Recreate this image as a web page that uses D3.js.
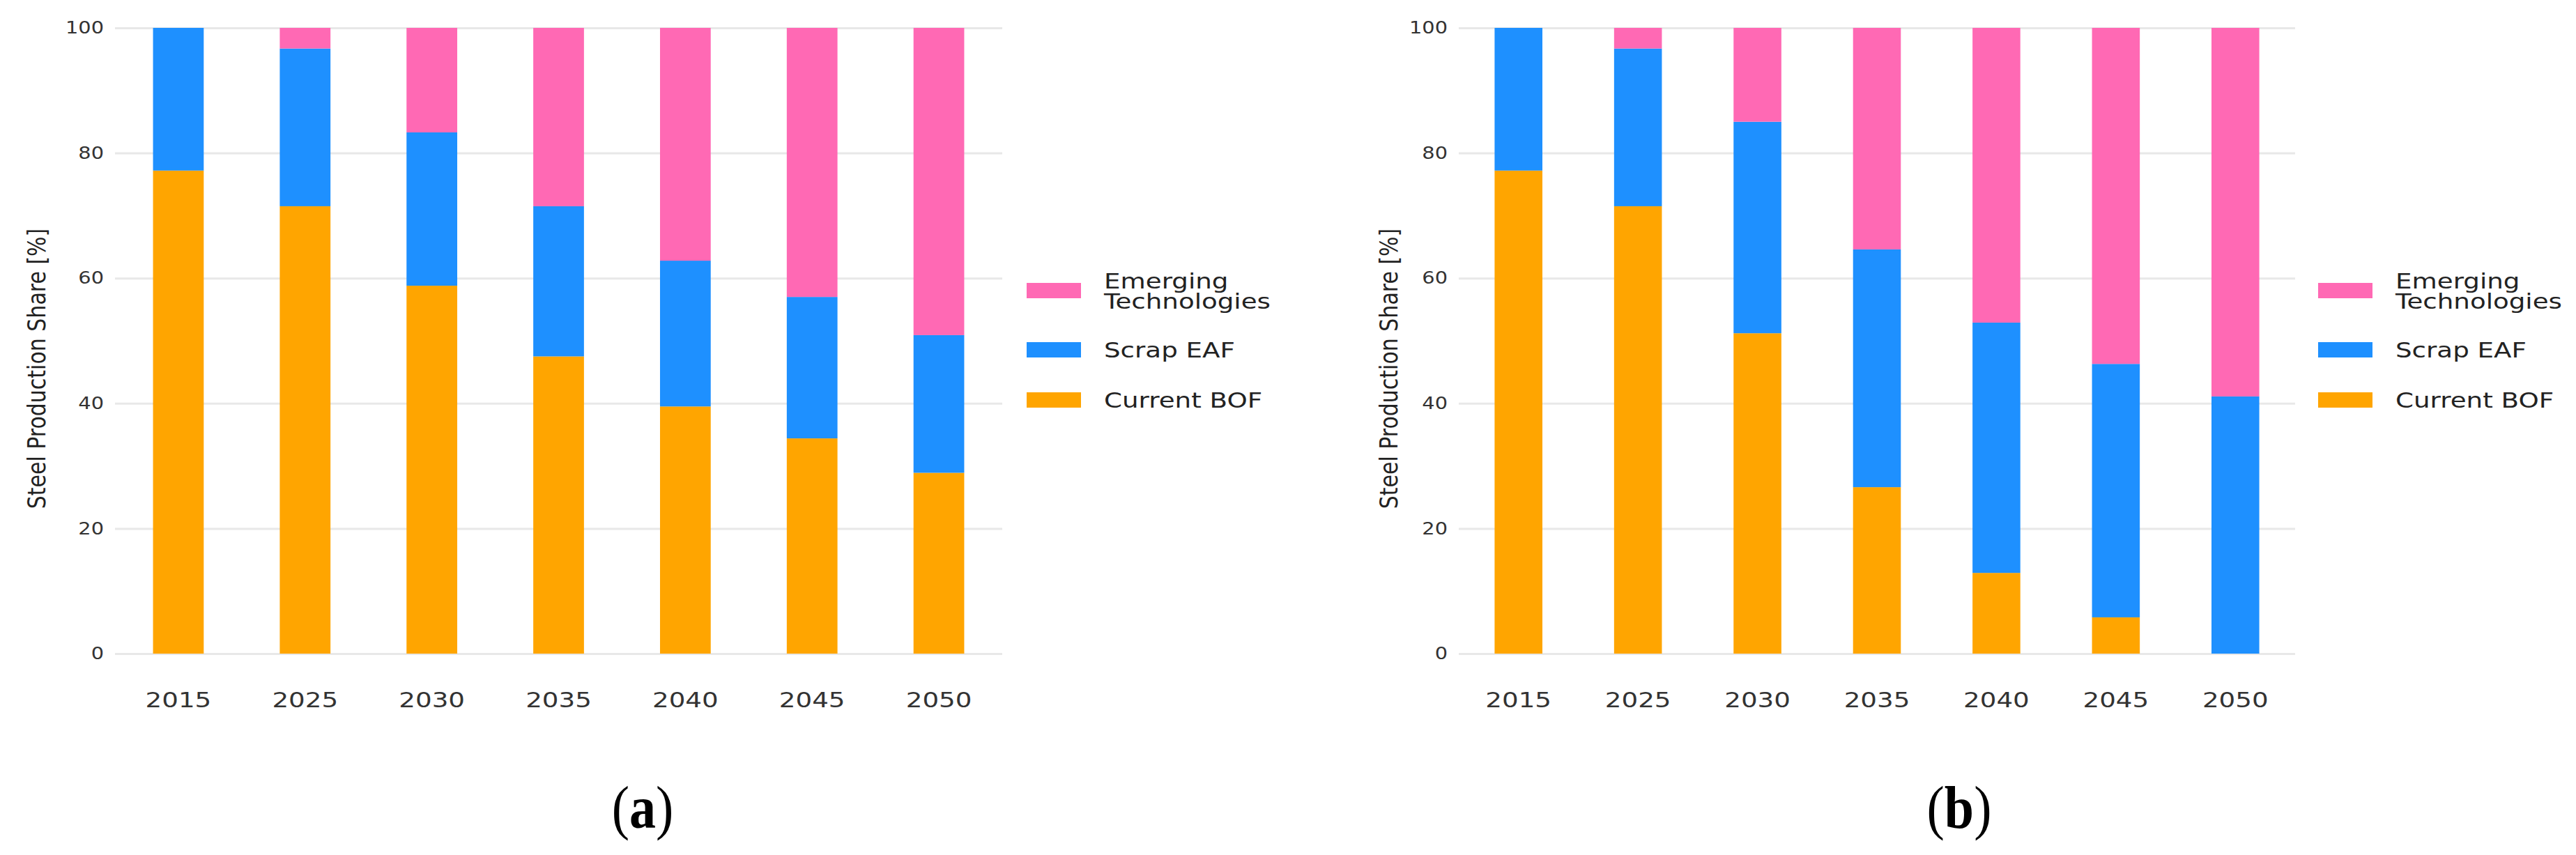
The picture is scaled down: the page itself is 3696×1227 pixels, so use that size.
<!DOCTYPE html>
<html>
<head>
<meta charset="utf-8">
<script src="https://cdn.jsdelivr.net/npm/d3@7"></script>
<style>
  body { margin: 0; background: #fff; }
  svg { display: block; font-family: "DejaVu Sans", sans-serif; }
</style>
</head>
<body>
<svg id="chart" width="3696" height="1227"></svg>
<script>
"use strict";

// categories + tick labels
const years = ["2015", "2025", "2030", "2035", "2040", "2045", "2050"];
const yTicks = [0, 20, 40, 60, 80, 100];
const seriesKeys = ["Current BOF", "Scrap EAF", "Emerging Technologies"];
const seriesColors = ["#FFA500", "#1E90FF", "#FF69B4"];

// panel (a) shares, % of production per segment
const bofA = [77.2, 71.5, 58.8, 47.5, 39.5, 34.4, 28.9];
const eafA = [22.8, 25.2, 24.5, 24.0, 23.3, 22.6, 22.0];
const emergA = [0.0, 3.3, 16.7, 28.5, 37.2, 43.0, 49.1];

// panel (b)
const bofB = [77.2, 71.5, 51.2, 26.6, 12.9, 5.8, 0.0];
const eafB = [22.8, 25.2, 33.8, 38.0, 40.0, 40.5, 41.1];
const emergB = [0.0, 3.3, 15.0, 35.4, 47.1, 53.7, 58.9];

let svg = d3.select("#chart");

// the source image is stretched sideways a bit, mimic it on the text
function widen(sel, k) {
    sel.each(function () {
        let L = this.getComputedTextLength();
        d3.select(this).attr("textLength", L * k).attr("lengthAdjust", "spacingAndGlyphs");
    });
}

function drawPanel(p, bof, eaf, emerg) {

    let rows = years.map(function (yr, i) {
        let r = { year: yr };
        r[seriesKeys[0]] = bof[i];
        r[seriesKeys[1]] = eaf[i];
        r[seriesKeys[2]] = emerg[i];
        return r;
    });

    let x = d3.scaleBand().domain(years).range([p.left, p.right]).paddingInner(0.6).paddingOuter(0.3);
    let y = d3.scaleLinear().domain([0, 100]).range([p.bottom, p.top]);
    let z = d3.scaleOrdinal().domain(seriesKeys).range(seriesColors);

    let g = svg.append("g");

    // grid + y tick labels
    let yAx = g.append("g")
        .attr("transform", "translate(" + p.left + ",0)")
        .call(d3.axisLeft(y).tickValues(yTicks).tickSize(-(p.right - p.left)).tickPadding(16));
    yAx.select(".domain").remove();
    yAx.selectAll("line").attr("stroke", "#e8e8e8").attr("stroke-width", 3);
    yAx.selectAll("text").attr("font-size", 24).attr("fill", "#333").attr("font-family", "DejaVu Sans");
    widen(yAx.selectAll("text"), 1.2);

    let stacked = d3.stack().keys(seriesKeys)(rows);

    g.append("g").selectAll("g").data(stacked).enter().append("g")
        .attr("fill", function (d) { return z(d.key); })
        .selectAll("rect").data(function (d) { return d; }).enter()
        .append("rect")
        .attr("x", function (d) { return x(d.data.year); })
        .attr("y", function (d) { return y(d[1]); })
        .attr("width", x.bandwidth())
        .attr("height", function (d) { return y(d[0]) - y(d[1]); });

    let xAx = g.append("g")
        .attr("transform", "translate(0," + p.bottom + ")")
        .call(d3.axisBottom(x).tickSize(0));
    xAx.select(".domain").remove();
    xAx.selectAll("text").attr("y", 77).attr("dy", null)
        .attr("font-size", 31).attr("fill", "#333").attr("font-family", "DejaVu Sans");
    widen(xAx.selectAll("text"), 1.2);

    // y title
    g.append("text")
        .attr("transform", "translate(" + p.titleX + "," + ((p.top + p.bottom) / 2 + 40) + ") rotate(-90) scale(1,1.2)")
        .attr("text-anchor", "middle")
        .attr("dy", "0.35em")
        .attr("font-size", 30)
        .attr("fill", "#222")
        .text("Steel Production Share [%]");

    // legend, top entry = last series
    let legendRows = [
        { key: seriesKeys[2], cy: 417, lines: ["Emerging", "Technologies"] },
        { key: seriesKeys[1], cy: 502, lines: ["Scrap EAF"] },
        { key: seriesKeys[0], cy: 574, lines: ["Current BOF"] }
    ];
    let lg = g.append("g").selectAll("g").data(legendRows).enter().append("g");
    lg.append("rect")
        .attr("x", p.legendX).attr("y", function (d) { return d.cy - 11; })
        .attr("width", 78).attr("height", 22)
        .attr("fill", function (d) { return z(d.key); });
    lg.each(function (d) {
        let n = d.lines.length;
        d3.select(this).selectAll("text").data(d.lines).enter().append("text")
            .attr("x", p.legendX + 111)
            .attr("y", function (t, i) { return d.cy + (i - (n - 1) / 2) * 29; })
            .attr("dy", "0.36em")
            .attr("font-size", 31)
            .attr("fill", "#222")
            .text(function (t) { return t; });
    });
    widen(lg.selectAll("text"), 1.2);

    // (a) / (b)
    let lab = g.append("g").attr("transform", "translate(" + p.labelX + ",1188) scale(1,1.15)");
    lab.append("text").attr("text-anchor", "middle")
        .attr("font-family", "Liberation Serif").attr("font-size", 76).attr("fill", "#000")
        .text("(");
    lab.select("text").append("tspan").attr("font-weight", "bold").text(p.label);
    lab.select("text").append("tspan").text(")");
}

drawPanel({ left: 165, right: 1438, top: 40, bottom: 938, titleX: 52, legendX: 1473, labelX: 922, label: "a" },
    bofA, eafA, emergA);
drawPanel({ left: 2093, right: 3293, top: 40, bottom: 938, titleX: 1992, legendX: 3326, labelX: 2811, label: "b" },
    bofB, eafB, emergB);
</script>
</body>
</html>
